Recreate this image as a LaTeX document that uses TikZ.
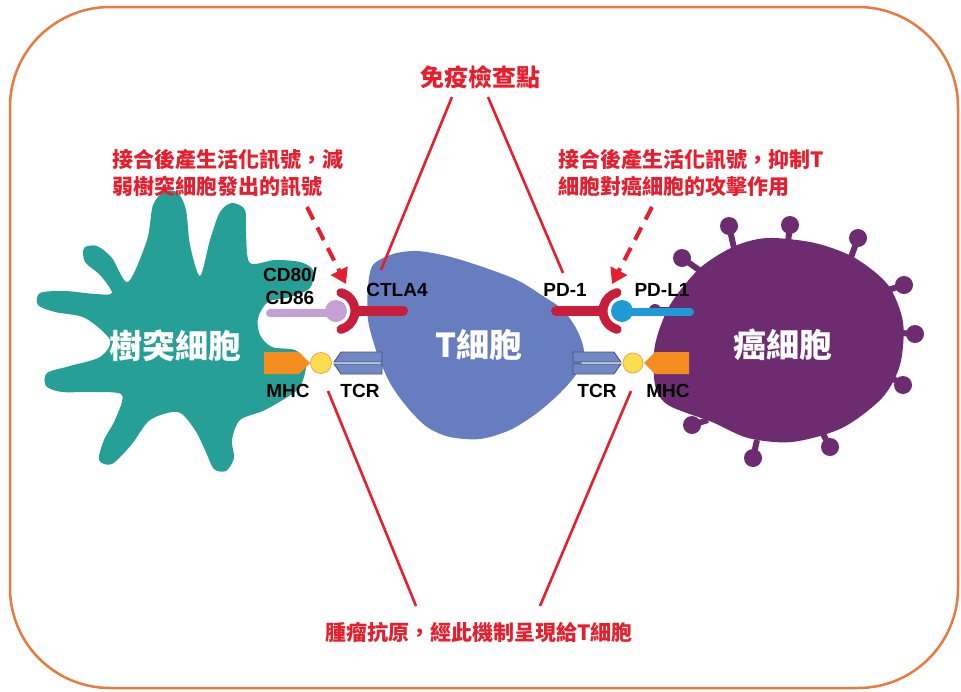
\documentclass[tikz,border=0pt]{standalone}
\usepackage{fontspec}
\setmainfont{Liberation Sans}
\newfontfamily\cjk{Noto Sans CJK TC}
\usetikzlibrary{arrows.meta}
\definecolor{myteal}{RGB}{38,160,150}
\definecolor{mytcell}{RGB}{102,126,192}
\definecolor{mycancer}{RGB}{110,44,112}
\definecolor{myred}{RGB}{230,30,45}
\definecolor{mycrimson}{RGB}{200,30,60}
\definecolor{mylilac}{RGB}{196,160,212}
\definecolor{mycyan}{RGB}{30,155,215}
\definecolor{myorange}{RGB}{244,140,30}
\definecolor{myyellow}{RGB}{250,222,80}
\definecolor{myframe}{RGB}{232,122,62}

\begin{document}
\begin{tikzpicture}[x=1pt,y=-1pt,
  lbl/.style={font=\bfseries\fontsize{19}{23}\selectfont, inner sep=0pt},
  note/.style={text=myred, font=\cjk\bfseries\fontsize{21}{27}\selectfont, inner sep=0pt},
  cellname/.style={text=white, font=\cjk\bfseries\fontsize{33}{36}\selectfont, inner sep=0pt},
  pointer/.style={myred, line width=2.6pt},
  hint/.style={myred, line width=4pt, dash pattern=on 14pt off 9pt, -{Triangle[width=18pt,length=15pt]}},
  spike/.style={mycancer, line width=6pt},
  tcr/.style={fill=mytcell!92!white, draw=mytcell!65!black, line width=0.8pt},
  mhc/.style={fill=myorange},
  antigen/.style={fill=myyellow, draw=myorange!80, line width=0.8pt},
]
  \useasboundingbox (0,0) rectangle (961,691);
  % frame
  \draw[myframe, line width=2.5pt, rounded corners=100pt] (10,7) rectangle (958,688);

  % dendritic cell
  \fill[myteal] plot[smooth cycle, tension=0.5] coordinates {
    (128,282) (147,240) (153,205) (165,191) (178,193) (186,210) (190,245)
    (200,276) (210,240) (220,212) (232,203) (245,210) (246,235) (250,263)
    (275,260) (300,262) (313,270) (310,288) (290,297) (268,302) (258,318)
    (260,335) (272,347) (295,350) (306,362) (303,380) (295,392) (265,410)
    (240,420) (232,440) (234,458) (226,471) (214,469) (205,450) (195,430)
    (178,412) (150,420) (132,444) (112,464) (99,460) (104,440) (115,420)
    (122,395) (95,392) (62,392) (46,386) (47,373) (70,366) (100,357)
    (110,340) (85,318) (55,312) (38,305) (40,293) (65,291) (95,294)
    (112,293) (100,275) (85,262) (84,248) (97,246) (112,258)};
  \node[cellname] (dclbl) at (175,346) {樹突細胞};

  % T cell
  \fill[mytcell] plot[smooth cycle] coordinates {
    (368,287) (373,265) (393,254) (417,251) (447,256) (480,266) (517,280)
    (543,296) (563,310) (577,330) (584,352) (577,373) (560,393) (537,413)
    (510,430) (480,439) (450,437) (427,427) (407,407) (390,383) (377,353)
    (368,320)};
  \node[cellname] (tclbl) at (479,345) {T細胞};

  % cancer cell
  \foreach \bx/\by/\hx/\hy/\r in {702/272/682/258/9, 734/248/729/226/9, 788/242/790/225/9,
      850/260/858/238/9, 888/290/904/285/9, 901/333/915/334/9, 892/378/903/385/9,
      822/432/830/447/9, 757/440/753/458/9, 708/420/692/425/9, 672/310/655/310/6} {
    \draw[spike] (\bx,\by) -- (\hx,\hy);
    \fill[mycancer] (\hx,\hy) circle (\r);
  }
  \fill[mycancer] plot[smooth cycle] coordinates {
    (700,268) (735,246) (768,238) (815,243) (855,258) (888,285) (903,322)
    (900,365) (882,398) (842,428) (792,442) (748,438) (712,422) (668,405)
    (655,385) (655,345) (670,305)};
  \node[cellname] (cclbl) at (783,345) {癌細胞};

  % CD80/CD86 and CTLA4
  \draw[mylilac, line width=8pt, line cap=round] (270,313) -- (335,313);
  \fill[mylilac] (336,311) circle (11);
  \draw[mycrimson, line width=9pt, line cap=round] (336,311) ++(-75:19) arc[start angle=-75, end angle=75, radius=19];
  \draw[mycrimson, line width=10pt, line cap=round] (356,311) -- (403,311);

  % PD-L1 and PD-1
  \draw[mycyan, line width=8pt, line cap=round] (622,312) -- (690,312);
  \fill[mycyan] (622,311) circle (11);
  \draw[mycrimson, line width=9pt, line cap=round] (622,311) ++(105:19) arc[start angle=105, end angle=255, radius=19];
  \draw[mycrimson, line width=10pt, line cap=round] (602,311) -- (556,311);

  % MHC - antigen - TCR, left
  \fill[mhc] (264,352) -- (299,352) -- (310,363) -- (299,374) -- (264,374) -- cycle;
  \draw[antigen] (321,363) circle (10.5);
  \draw[tcr] (341,352) -- (382,352) -- (382,362) -- (334,362) -- cycle;
  \draw[tcr] (334,364) -- (382,364) -- (382,374) -- (341,374) -- cycle;

  % MHC - antigen - TCR, right
  \fill[mhc] (689,352) -- (655,352) -- (644,363) -- (655,374) -- (689,374) -- cycle;
  \draw[antigen] (633,363) circle (10);
  \draw[tcr] (573,352) -- (614,352) -- (621,362) -- (573,362) -- cycle;
  \draw[tcr] (573,364) -- (621,364) -- (614,374) -- (573,374) -- cycle;

  % labels
  \node[lbl, align=center] (cd80) at (290,286) {CD80/\\CD86};
  \node[lbl] (ctla) at (397,290) {CTLA4};
  \node[lbl] (mhcL) at (288,391) {MHC};
  \node[lbl] (tcrL) at (360,391) {TCR};
  \node[lbl] (pd1) at (565,290) {PD-1};
  \node[lbl] (pdl1) at (662,290) {PD-L1};
  \node[lbl] (tcrR) at (597,391) {TCR};
  \node[lbl] (mhcR) at (668,391) {MHC};

  % notes
  \node[note, font=\cjk\bfseries\fontsize{24}{28}\selectfont] (icp) at (480,77) {免疫檢查點};
  \node[note, anchor=north west, align=left] (lnote) at (112,149) {接合後產生活化訊號，減\\弱樹突細胞發出的訊號};
  \node[note, anchor=north west, align=left] (rnote) at (558,149) {接合後產生活化訊號，抑制T\\細胞對癌細胞的攻擊作用};
  \node[note] (tumag) at (479,632) {腫瘤抗原，經此機制呈現給T細胞};

  % pointer lines
  \coordinate (icpL) at (452,97);
  \coordinate (icpR) at (488,97);
  \coordinate (ctlaTop) at (381,270);
  \coordinate (pdTop) at (563,273);
  \coordinate (synL) at (328,391);
  \coordinate (synR) at (631,391);
  \coordinate (tumL) at (416,606);
  \coordinate (tumR) at (540,606);
  \draw[pointer] (icpL) -- (ctlaTop);
  \draw[pointer] (icpR) -- (pdTop);
  \draw[pointer] (synL) -- (tumL);
  \draw[pointer] (synR) -- (tumR);

  % signal arrows
  \coordinate (lfrom) at (307,207);
  \coordinate (lto) at (346,284);
  \coordinate (rfrom) at (652,207);
  \coordinate (rto) at (612,284);
  \draw[hint] (lfrom) -- (lto);
  \draw[hint] (rfrom) -- (rto);
\end{tikzpicture}
\end{document}
